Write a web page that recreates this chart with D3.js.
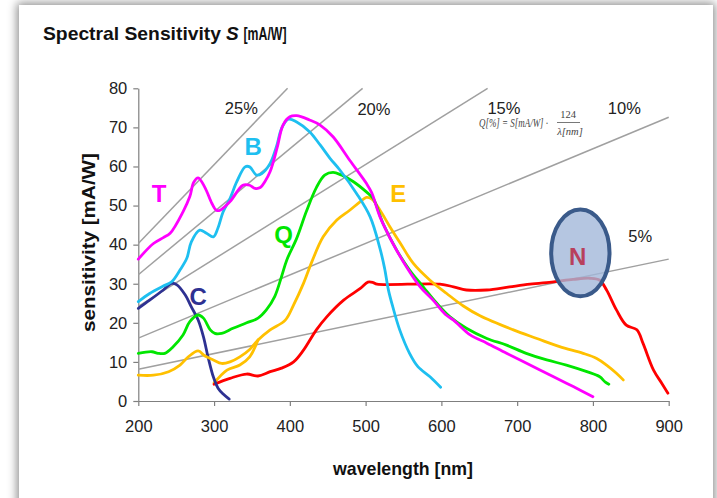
<!DOCTYPE html>
<html>
<head>
<meta charset="utf-8">
<script src="https://cdn.jsdelivr.net/npm/d3@7"></script>
<style>
  html, body { margin: 0; padding: 0; background: #ffffff; width: 717px; height: 498px; overflow: hidden; }
  .card { position: absolute; left: 19px; top: 5px; width: 694px; height: 520px; background: #fff;
          box-shadow: 0 0 9px 2px rgba(0,0,0,0.45); }
  svg { position: absolute; left: 0; top: 0; }
</style>
</head>
<body>
<div class="card"></div>
<svg id="chart" width="717" height="498"></svg>
<script>
// ---- data (wavelength nm, sensitivity mA/W) ----
const xTicks = [200, 300, 400, 500, 600, 700, 800, 900];
const yTicks = [0, 10, 20, 30, 40, 50, 60, 70, 80];

const seriesT = [[200,36.3],[220,40.3],[233,41.8],[242,42.9],[259,48.4],[268,52.3],[273,55.9],[279,57.1],[288,54.6],[297,50.6],[303,48.8],[308,48.8],[321,51],[338,55.2],[347,55.2],[354,54.4],[361,54.6],[367,56.1],[374,58.7],[383,64.6],[391,70.6],[400,72.7],[409,73],[426,71.9],[440,70.6],[457,67.6],[479,61.6],[501,55.7],[508,53.3],[519,47.1],[536,40.3],[554,34.3],[572,29.2],[589,25.8],[605,22.2],[616,20.7],[638,16.9],[660,14.8],[686,12.2],[717,9.2],[748,6.2],[774,3.7],[800,1.1]];
const seriesB = [[200,25.4],[215,27.5],[233,29.4],[244,30.5],[255,33.5],[264,36.5],[270,40.7],[281,43.7],[290,42.9],[299,42],[305,44.2],[312,48.4],[321,51.8],[330,56.1],[341,59.9],[347,59.9],[356,57.8],[363,58.2],[374,60.8],[383,65.5],[389,69.7],[398,72.1],[409,71.4],[426,68.9],[440,65.5],[453,62.1],[466,59.1],[488,53.1],[506,47.1],[519,39],[525,34],[530,28.5],[536,24],[545,18.2],[558,12.2],[569,8.8],[585,6.2],[599,3.5]];
const seriesQ = [[200,12.2],[218,12.6],[226,12.2],[235,12.2],[246,13.9],[259,16.9],[268,20.3],[279,22],[286,21.2],[295,18.2],[301,17.3],[310,17.3],[325,18.6],[343,20],[358,21.2],[369,23.3],[380,26.7],[389,31.8],[396,36.1],[409,41.6],[422,48.6],[435,54.6],[446,57.8],[457,58.5],[468,57.8],[484,56.1],[501,53.5],[510,51.8],[523,45.4],[541,38.6],[558,33.5],[576,29.2],[594,25],[611,21.6],[633,18.6],[660,16],[686,14.3],[712,12.2],[739,10.5],[765,9.2],[792,7.5],[809,6.2],[816,4.9],[821,4.3]];
const seriesE = [[200,6.6],[220,6.6],[240,7.5],[255,9.2],[266,11.3],[279,12.8],[288,11.5],[299,10.5],[310,9.6],[321,10],[334,11.3],[347,13.2],[358,15.6],[374,18.2],[394,20.7],[405,24.6],[418,30.1],[429,35.6],[444,42],[462,46.3],[479,48.8],[493,51],[501,52.1],[508,51.7],[519,48.8],[532,44.6],[546,40.3],[563,35.2],[585,30.9],[607,27.5],[629,24.3],[651,21.8],[695,18.2],[726,16],[756,13.9],[787,12.2],[805,10.9],[818,9.2],[831,7.1],[840,5.4]];
const seriesE2 = [[300,4.6],[317,7.9],[334,9.2],[347,11.3],[358,15.6]];
const seriesC = [[200,23.7],[215,25.8],[233,28.4],[244,30.1],[251,29.7],[262,27.1],[270,24.1],[279,20.7],[286,16.4],[292,11.3],[299,6.2],[305.5,3.2],[312,1.8],[320,0.5]];
const seriesN = [[300,4.3],[321,5.8],[343,6.9],[358,6.4],[374,7.5],[389,8.4],[405,10],[418,13],[435,18.2],[449,21.6],[471,25.8],[493,28.8],[503,30.4],[510,30.3],[515,29.9],[598,29.9],[616,29.2],[633,28.4],[660,28.4],[690,29.2],[717,29.9],[748,30.5],[774,31.1],[796,31.4],[809,30.9],[818,28.4],[831,23.3],[844,19.4],[858,18.2],[866,14.8],[880,7.9],[891,4.5],[899,2]];

// iso-quantum-efficiency lines Q[%] (end points)
const isoQ = [25, 20, 15, 10, 5];
const isoStart = [[200,40.3],[200,32.3],[200,24.2],[200,16.1],[200,8.1]];
const isoEnd = [[397,80],[496,80],[661,80],[900,72.6],[900,36.3]];
const isoLabelPos = [[336,75],[511,74.8],[682.5,74.9],[841.4,74.9],[862.5,42.3]];

const seriesNames = ["T","B","Q","E","C","N"];
const seriesColors = ["#ff00ff","#1ebff0","#00e600","#ffc000","#2e3192","#ff0000"];
const seriesLabelPos = [[227.5,53.2],[351.7,65],[391.8,42.5],[543,53],[279,26.8],[780,36.9]];

// ---- layout ----
const svg = d3.select("#chart");
const x = d3.scaleLinear().domain([200, 900]).range([138.3, 668.7]);
const y = d3.scaleLinear().domain([0, 80]).range([401, 88.3]);
const NARROW = '"Liberation Sans Narrow","Arial Narrow","Liberation Sans",Arial,sans-serif';
const SANS = '"Liberation Sans",Arial,sans-serif';

// title (three parts so the italic S keeps its own place)
const titleParts = [
  {t: "Spectral Sensitivity", x: 43, w: 178, it: false, fs: 19},
  {t: "S", x: 226, w: null, it: true, fs: 19},
  {t: "[mA/W]", x: 243.5, w: 43, it: false, fs: 18}
];
titleParts.forEach(p => {
  const tx = svg.append("text").attr("x", p.x).attr("y", 39.5)
    .attr("font-family", SANS).attr("font-weight", "bold").attr("font-size", p.fs).attr("fill", "#111")
    .attr("font-style", p.it ? "italic" : "normal").text(p.t);
  if (p.w) tx.attr("textLength", p.w).attr("lengthAdjust", "spacingAndGlyphs");
});

// axes
const xAxis = svg.append("g").attr("transform", `translate(0,${y(0)})`)
  .call(d3.axisBottom(x).tickValues(xTicks).tickSize(5).tickPadding(14).tickSizeOuter(0));
const yAxis = svg.append("g").attr("transform", `translate(${x(200)},0)`)
  .call(d3.axisLeft(y).tickValues(yTicks).tickSize(5).tickPadding(6).tickSizeOuter(0));
[xAxis, yAxis].forEach(g => {
  g.select(".domain").attr("stroke", "#7f7f7f").attr("stroke-width", 1.2);
  g.selectAll(".tick line").attr("stroke", "#7f7f7f").attr("stroke-width", 1.2);
  g.selectAll(".tick text").attr("font-family", SANS).attr("font-size", 16.5).attr("fill", "#222");
});

// axis titles
svg.append("text").attr("x", 403).attr("y", 475).attr("text-anchor", "middle")
  .attr("font-family", SANS).attr("font-weight", "bold").attr("font-size", 19).attr("fill", "#111")
  .attr("textLength", 140).attr("lengthAdjust", "spacingAndGlyphs").text("wavelength [nm]");
svg.append("text").attr("transform", "translate(95,242.5) rotate(-90)").attr("text-anchor", "middle")
  .attr("font-family", SANS).attr("font-weight", "bold").attr("font-size", 19).attr("fill", "#111")
  .attr("textLength", 179).attr("lengthAdjust", "spacingAndGlyphs").text("sensitivity [mA/W]");

// iso lines
isoQ.forEach((q, i) => {
  svg.append("line")
    .attr("x1", x(isoStart[i][0])).attr("y1", y(isoStart[i][1]))
    .attr("x2", x(isoEnd[i][0])).attr("y2", y(isoEnd[i][1]))
    .attr("stroke", "#a0a0a0").attr("stroke-width", 1.5);
  svg.append("text").attr("x", x(isoLabelPos[i][0])).attr("y", y(isoLabelPos[i][1]))
    .attr("text-anchor", "middle").attr("dominant-baseline", "central")
    .attr("font-family", SANS).attr("font-size", 16.5).attr("fill", "#222").text(q + "%");
});

// formula
const SERIF = '"Liberation Serif","Times New Roman",serif';
svg.append("text").attr("x", 479).attr("y", 127).attr("font-family", SERIF).attr("font-style", "italic")
  .attr("font-size", 13).attr("fill", "#444").attr("textLength", 69).attr("lengthAdjust", "spacingAndGlyphs")
  .text("Q[%] = S[mA/W] \u00b7");
svg.append("text").attr("x", 568).attr("y", 118).attr("text-anchor", "middle").attr("font-family", SERIF)
  .attr("font-size", 10.5).attr("fill", "#444").text("124");
svg.append("line").attr("x1", 557).attr("x2", 580).attr("y1", 122.5).attr("y2", 122.5)
  .attr("stroke", "#555").attr("stroke-width", 0.8);
svg.append("text").attr("x", 570).attr("y", 134.5).attr("text-anchor", "middle").attr("font-family", SERIF)
  .attr("font-style", "italic").attr("font-size", 10.5).attr("fill", "#444").text("\u03bb[nm]");

// series lines
const line = d3.line().x(d => x(d[0])).y(d => y(d[1])).curve(d3.curveCatmullRom.alpha(0.5));
const allSeries = [seriesT, seriesB, seriesQ, seriesE, seriesC, seriesN];
const order = [5, 4, 3, 2, 1, 0];
svg.append("path").attr("d", line(seriesE2)).attr("fill", "none").attr("stroke", seriesColors[3])
  .attr("stroke-width", 2.8).attr("stroke-linejoin", "round").attr("stroke-linecap", "round");
order.forEach(i => {
  svg.append("path").attr("d", line(allSeries[i])).attr("fill", "none")
    .attr("stroke", seriesColors[i]).attr("stroke-width", 2.8)
    .attr("stroke-linejoin", "round").attr("stroke-linecap", "round");
});

// N ellipse highlight
const ellC = [783.4, 37.9], ellR = [38.5, 11.1];
svg.append("ellipse").attr("cx", x(ellC[0])).attr("cy", y(ellC[1]))
  .attr("rx", x(200 + ellR[0]) - x(200)).attr("ry", y(0) - y(ellR[1]))
  .attr("fill", "#a3b8da").attr("fill-opacity", 0.8)
  .attr("stroke", "#3a5a8a").attr("stroke-width", 4);

// series letters
seriesNames.forEach((n, i) => {
  svg.append("text").attr("x", x(seriesLabelPos[i][0])).attr("y", y(seriesLabelPos[i][1]))
    .attr("text-anchor", "middle").attr("dominant-baseline", "central")
    .attr("font-family", NARROW).attr("font-weight", "bold").attr("font-size", 24)
    .attr("fill", n === "N" ? "#b8405c" : seriesColors[i]).text(n);
});
</script>
</body>
</html>
